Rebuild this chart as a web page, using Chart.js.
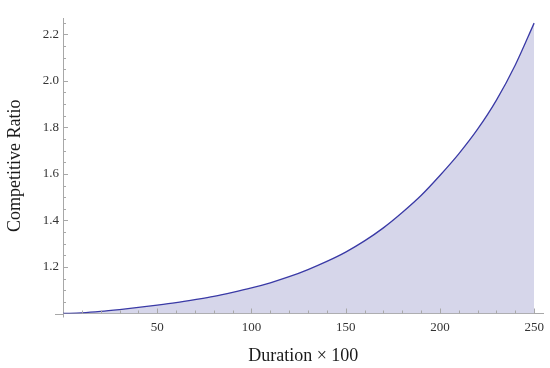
<!DOCTYPE html>
<html>
<head>
<meta charset="utf-8">
<script src="https://cdn.jsdelivr.net/npm/chart.js@4.4.1/dist/chart.umd.min.js"></script>
<style>
  html, body { margin: 0; padding: 0; background: #ffffff; }
  #wrap { width: 550px; height: 368px; }
</style>
</head>
<body>
<div id="wrap"><canvas id="c" width="550" height="368"></canvas></div>
<script>
// Duration x 100 (x values)
const durations = [0, 10, 20, 30, 40, 50, 60, 70, 80, 90, 100, 110, 120, 130, 140, 150, 160, 170, 180, 190, 200, 210, 220, 230, 240, 250];
// Competitive ratio
const ratios = [1.000, 1.003, 1.009, 1.017, 1.026, 1.036, 1.047, 1.060, 1.074, 1.091, 1.110, 1.132, 1.158, 1.189, 1.224, 1.264, 1.312, 1.368, 1.434, 1.507, 1.593, 1.686, 1.792, 1.917, 2.068, 2.248];
// Axis tick labels
const xTickValues = [50, 100, 150, 200, 250];
const yTickValues = [1.2, 1.4, 1.6, 1.8, 2.0, 2.2];

const axisColor = '#a8a8a8';
const labelFont = "'Liberation Serif', 'DejaVu Serif', serif";

const points = durations.map((d, i) => ({ x: d, y: ratios[i] }));

// Draw inward-pointing major/minor ticks like Mathematica axes
const inwardTicks = {
  id: 'inwardTicks',
  afterDraw(chart) {
    const ctx = chart.ctx;
    const xs = chart.scales.x, ys = chart.scales.y;
    const area = chart.chartArea;
    ctx.save();
    ctx.strokeStyle = axisColor;
    ctx.lineWidth = 1;
    // small axis overshoot past the origin
    ctx.beginPath();
    ctx.moveTo(area.left - 8, Math.round(area.bottom) + 0.5);
    ctx.lineTo(area.left, Math.round(area.bottom) + 0.5);
    ctx.moveTo(Math.round(area.left) + 0.5, area.bottom);
    ctx.lineTo(Math.round(area.left) + 0.5, area.bottom + 4);
    ctx.stroke();
    // x ticks every 10, major every 50
    for (let v = 10; v <= xs.max; v += 10) {
      const px = Math.round(xs.getPixelForValue(v)) + 0.5;
      const len = (v % 50 === 0) ? 5 : 3;
      ctx.beginPath();
      ctx.moveTo(px, area.bottom);
      ctx.lineTo(px, area.bottom - len);
      ctx.stroke();
    }
    // y ticks every 0.05, major every 0.2
    for (let k = 1; k * 0.05 + 1 <= ys.max + 1e-9; k++) {
      const v = 1 + k * 0.05;
      const py = Math.round(ys.getPixelForValue(v)) + 0.5;
      const len = (k % 4 === 0) ? 5 : 3;
      ctx.beginPath();
      ctx.moveTo(area.left, py);
      ctx.lineTo(area.left + len, py);
      ctx.stroke();
    }
    ctx.restore();
  }
};

new Chart(document.getElementById('c'), {
  type: 'line',
  data: {
    datasets: [{
      data: points,
      borderColor: '#3a3aa6',
      borderWidth: 1.3,
      backgroundColor: 'rgba(214, 214, 234, 1)',
      fill: 'start',
      pointRadius: 0,
      cubicInterpolationMode: 'monotone'
    }]
  },
  options: {
    responsive: false,
    animation: false,
    devicePixelRatio: 1,
    layout: { padding: { left: 0, top: 18, right: 6, bottom: 0 } },
    plugins: { legend: { display: false }, tooltip: { enabled: false } },
    scales: {
      x: {
        type: 'linear',
        min: 0,
        max: 255,
        afterFit(scale) { scale.height = 54.5; },
        afterBuildTicks(scale) { scale.ticks = xTickValues.map(v => ({ value: v })); },
        ticks: {
          padding: 6,
          color: '#333333',
          font: { family: labelFont, size: 13 },
          callback: (v) => String(v)
        },
        grid: { display: false, drawTicks: false },
        border: { display: true, color: axisColor, width: 1 },
        title: {
          display: true,
          text: 'Duration × 100',
          color: '#1a1a1a',
          font: { family: labelFont, size: 18 },
          padding: { top: 0, bottom: 1 }
        }
      },
      y: {
        type: 'linear',
        min: 1,
        max: 2.27,
        afterFit(scale) { scale.width = 63; },
        afterBuildTicks(scale) { scale.ticks = yTickValues.map(v => ({ value: v })); },
        ticks: {
          padding: 4,
          color: '#333333',
          font: { family: labelFont, size: 13 },
          callback: (v) => Number(v).toFixed(1)
        },
        grid: { display: false, drawTicks: false },
        border: { display: true, color: axisColor, width: 1 },
        title: {
          display: true,
          text: 'Competitive Ratio',
          color: '#1a1a1a',
          font: { family: labelFont, size: 18 },
          padding: { top: 4, bottom: 0 }
        }
      }
    }
  },
  plugins: [inwardTicks]
});
</script>
</body>
</html>
